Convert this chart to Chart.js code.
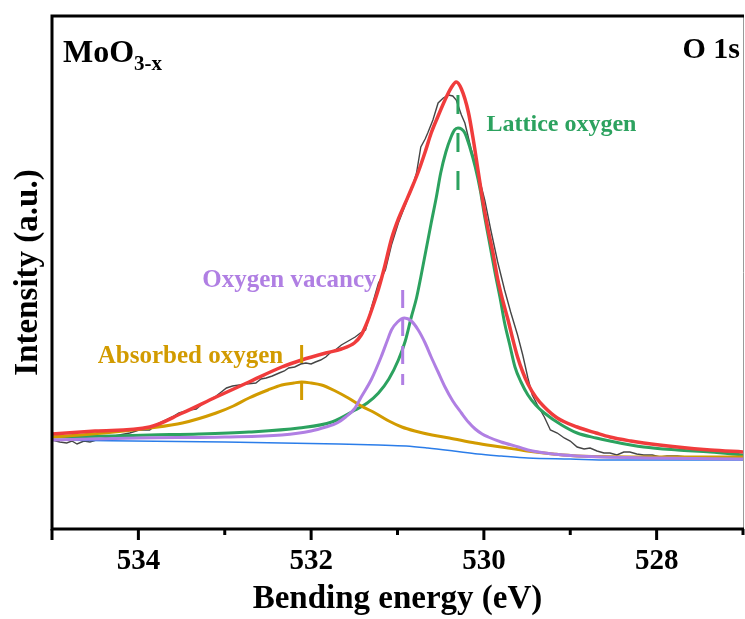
<!DOCTYPE html>
<html>
<head>
<meta charset="utf-8">
<script src="https://cdn.jsdelivr.net/npm/chart.js@4.4.0/dist/chart.umd.min.js"></script>
<style>
  html, body { margin: 0; padding: 0; background: #fff; }
  #wrap { width: 745px; height: 619px; }
</style>
</head>
<body>
<div id="wrap"><canvas id="xps" width="745" height="619"></canvas></div>
<script>
// O 1s spectrum of MoO3-x (intensity in a.u.)

// measured spectrum
const rawEnergy = [535.00, 534.91, 534.83, 534.77, 534.71, 534.63, 534.56, 534.45, 534.33, 534.22, 534.10, 533.99, 533.87, 533.76, 533.68, 533.61, 533.53, 533.41, 533.33, 533.26, 533.18, 533.10, 533.04, 532.98, 532.91, 532.83, 532.75, 532.64, 532.58, 532.52, 532.45, 532.37, 532.31, 532.26, 532.19, 532.12, 532.06, 532.00, 531.95, 531.89, 531.83, 531.77, 531.72, 531.65, 531.57, 531.49, 531.43, 531.37, 531.30, 531.22, 531.14, 531.07, 530.99, 530.91, 530.84, 530.78, 530.73, 530.68, 530.65, 530.59, 530.53, 530.47, 530.41, 530.36, 530.32, 530.26, 530.22, 530.15, 530.07, 529.99, 529.92, 529.84, 529.76, 529.69, 529.61, 529.55, 529.49, 529.44, 529.38, 529.30, 529.23, 529.15, 529.07, 529.00, 528.92, 528.84, 528.77, 528.69, 528.61, 528.54, 528.46, 528.38, 528.31, 528.23, 528.15, 528.05, 527.96, 527.88, 527.76, 527.65, 527.53];
const rawCounts = [89, 87, 86, 88, 85, 88, 87, 90, 92, 94, 96, 99, 99, 106, 109, 112, 116, 119, 120, 125, 129, 133, 137, 141, 143, 144, 145, 146, 150, 151, 153, 156, 158, 161, 162, 165, 166, 165, 167, 169, 172, 177, 179, 184, 188, 192, 196, 199, 222, 246, 259, 284, 306, 324, 339, 356, 382, 390, 396, 409, 426, 431, 434, 433, 429, 414, 406, 381, 356, 329, 299, 267, 239, 217, 194, 174, 151, 134, 124, 112, 99, 96, 91, 88, 82, 80, 81, 78, 76, 76, 74, 77, 77, 75, 74, 74, 72, 73, 73, 72, 72];

// fitted envelope
const envEnergy = [535.00, 534.50, 533.87, 533.49, 533.10, 532.72, 532.34, 532.11, 531.83, 531.65, 531.50, 531.42, 531.35, 531.28, 531.22, 531.15, 531.07, 530.99, 530.91, 530.84, 530.76, 530.68, 530.61, 530.53, 530.45, 530.38, 530.32, 530.26, 530.18, 530.12, 530.07, 530.01, 529.95, 529.89, 529.84, 529.78, 529.72, 529.66, 529.61, 529.55, 529.49, 529.40, 529.30, 529.15, 528.92, 528.70, 528.54, 528.30, 528.15, 527.76, 527.38, 527.00];
const envCounts = [95, 98, 102, 116, 132, 147, 162, 169, 176, 180, 186, 194, 207, 224, 240, 262, 290, 310, 326, 340, 357, 377, 396, 413, 429, 441, 447, 440, 417, 388, 360, 327, 299, 274, 250, 228, 209, 188, 172, 157, 145, 132, 122, 111, 102, 96, 92, 88, 86, 82, 79, 77];

// lattice oxygen component
const latEnergy = [535.00, 534.30, 533.87, 533.30, 532.72, 532.14, 531.76, 531.49, 531.35, 531.22, 531.10, 530.99, 530.91, 530.84, 530.78, 530.73, 530.67, 530.61, 530.55, 530.50, 530.44, 530.38, 530.34, 530.30, 530.26, 530.22, 530.16, 530.10, 530.04, 529.99, 529.93, 529.87, 529.81, 529.76, 529.70, 529.64, 529.57, 529.49, 529.40, 529.30, 529.10, 528.92, 528.70, 528.54, 528.15, 527.76, 527.38, 527.00];
const latCounts = [92, 93, 94, 95, 97, 101, 107, 119, 126, 136, 150, 169, 188, 212, 231, 252, 279, 306, 332, 356, 377, 392, 399, 401, 400, 396, 381, 362, 338, 312, 284, 256, 230, 206, 184, 162, 147, 134, 124, 116, 104, 96, 91, 88, 82, 79, 77, 74];

// oxygen vacancy component
const vacEnergy = [535.00, 534.00, 533.00, 532.34, 532.00, 531.83, 531.70, 531.60, 531.50, 531.42, 531.30, 531.19, 531.12, 531.07, 531.00, 530.92, 530.84, 530.76, 530.68, 530.61, 530.53, 530.45, 530.36, 530.26, 530.18, 530.10, 530.02, 529.95, 529.80, 529.60, 529.49, 529.20, 528.92, 528.00, 527.00];
const vacCounts = [89, 91, 92, 94, 98, 102, 106, 112, 120, 132, 150, 172, 188, 199, 207, 211, 208, 199, 186, 172, 157, 142, 128, 116, 107, 100, 95, 92, 87, 82, 79, 75, 73, 71, 70];

// absorbed oxygen component
const absEnergy = [535.00, 534.40, 533.87, 533.49, 533.10, 532.90, 532.72, 532.50, 532.34, 532.20, 532.11, 532.00, 531.88, 531.72, 531.57, 531.42, 531.26, 531.10, 530.95, 530.80, 530.60, 530.40, 530.10, 529.80, 529.50, 529.20, 528.92, 528.00, 527.00];
const absCounts = [92, 96, 101, 106, 116, 123, 131, 139, 144, 146, 147, 146, 144, 138, 131, 123, 116, 108, 102, 98, 94, 91, 86, 82, 78, 75, 73, 72, 72];

// background
const bgEnergy = [535.00, 533.00, 531.68, 531.22, 530.90, 530.65, 530.35, 530.07, 529.80, 529.49, 529.00, 528.54, 527.00];
const bgCounts = [89, 87, 85, 84, 83, 81, 78, 75, 73, 71, 70, 69, 69];

// peak centres (eV) and the span of their marker lines (a.u.)
const peakNames = ['Lattice oxygen', 'Oxygen vacancy', 'Absorbed oxygen'];
const peakCentre = [530.30, 530.94, 532.11];
const markTop = [434, 239, 184];
const markBottom = [339, 144, 121];

const xLabelTicks = [534, 532, 530, 528];
const xAllTicks = [535, 534, 533, 532, 531, 530, 529, 528, 527];

const SERIF = '"Liberation Serif", "Times New Roman", serif';
const GREEN = '#2ca25f', PURPLE = '#b07fe3', GOLD = '#d29b00';

const toPts = (es, cs) => es.map((e, i) => ({ x: e, y: cs[i] }));

// frame, ticks, peak markers and labels
const decorPlugin = {
    id: 'decor',
    afterDraw(chart) {
        const { ctx, chartArea: a, scales: { x, y } } = chart;
        ctx.save();

        // thin right border
        ctx.strokeStyle = '#9a9a9a';
        ctx.lineWidth = 1;
        ctx.beginPath();
        ctx.moveTo(a.right + 0.5, a.top);
        ctx.lineTo(a.right + 0.5, a.bottom);
        ctx.stroke();

        // thick left, top, bottom
        ctx.strokeStyle = '#000';
        ctx.lineWidth = 3;
        ctx.beginPath();
        ctx.moveTo(a.right + 1, a.top);
        ctx.lineTo(a.left, a.top);
        ctx.lineTo(a.left, a.bottom);
        ctx.lineTo(a.right + 1, a.bottom);
        ctx.stroke();

        // ticks: long on labelled values, short in between
        xAllTicks.forEach(v => {
            const px = x.getPixelForValue(v);
            const len = xLabelTicks.includes(v) || v === 535 ? 11 : 6;
            ctx.beginPath();
            ctx.moveTo(px, a.bottom);
            ctx.lineTo(px, a.bottom + len);
            ctx.stroke();
        });

        // dashed markers at the peak centres
        const colors = [GREEN, PURPLE, GOLD];
        const dashes = [[19, 19], [18, 10], [18, 19]];
        peakCentre.forEach((e, i) => {
            const px = x.getPixelForValue(e);
            ctx.strokeStyle = colors[i];
            ctx.lineWidth = 3;
            ctx.setLineDash(dashes[i]);
            ctx.beginPath();
            ctx.moveTo(px, y.getPixelForValue(markTop[i]));
            ctx.lineTo(px, y.getPixelForValue(markBottom[i]));
            ctx.stroke();
        });
        ctx.setLineDash([]);

        // peak names
        ctx.textBaseline = 'alphabetic';
        ctx.textAlign = 'left';
        ctx.font = 'bold 24px ' + SERIF;
        ctx.fillStyle = GREEN;
        ctx.fillText(peakNames[0], x.getPixelForValue(529.97), y.getPixelForValue(398));
        ctx.font = 'bold 25px ' + SERIF;
        ctx.fillStyle = PURPLE;
        ctx.fillText(peakNames[1], x.getPixelForValue(533.26), y.getPixelForValue(242));
        ctx.font = 'bold 25px ' + SERIF;
        ctx.fillStyle = GOLD;
        ctx.fillText(peakNames[2], x.getPixelForValue(534.47), y.getPixelForValue(166));

        // sample and core level
        ctx.fillStyle = '#000';
        ctx.font = 'bold 32px ' + SERIF;
        const sx = a.left + 11, sy = a.top + 46;
        ctx.fillText('MoO', sx, sy);
        const w = ctx.measureText('MoO').width;
        ctx.font = 'bold 21px ' + SERIF;
        ctx.fillText('3-x', sx + w, sy + 8);
        ctx.font = 'bold 30px ' + SERIF;
        ctx.textAlign = 'right';
        ctx.fillText('O 1s', a.right - 3, a.top + 42);

        ctx.restore();
    }
};

const line = (label, pts, color, width, order, smooth) => ({
    label,
    data: pts,
    borderColor: color,
    borderWidth: width,
    pointRadius: 0,
    fill: false,
    order,
    tension: 0,
    cubicInterpolationMode: smooth ? 'monotone' : 'default'
});

new Chart(document.getElementById('xps'), {
    type: 'line',
    data: {
        datasets: [
            line('Envelope', toPts(envEnergy, envCounts), '#f03c3c', 3.5, 0, true),
            line('Oxygen vacancy', toPts(vacEnergy, vacCounts), PURPLE, 3, 1, true),
            line('Absorbed oxygen', toPts(absEnergy, absCounts), GOLD, 3, 2, true),
            line('Lattice oxygen', toPts(latEnergy, latCounts), GREEN, 3, 3, true),
            line('Background', toPts(bgEnergy, bgCounts), '#2b7de9', 1.5, 4, true),
            line('Raw', toPts(rawEnergy, rawCounts), '#454545', 1.4, 5, false)
        ]
    },
    options: {
        responsive: false,
        animation: false,
        events: [],
        layout: { padding: { top: 16, right: 2, left: 0, bottom: 0 } },
        plugins: { legend: { display: false }, tooltip: { enabled: false } },
        scales: {
            x: {
                type: 'linear',
                reverse: true,
                min: 527,
                max: 535,
                afterBuildTicks: s => { s.ticks = xLabelTicks.map(v => ({ value: v })); },
                afterFit: s => { s.height = 90; },
                grid: { display: false, drawTicks: false },
                border: { display: false },
                ticks: {
                    color: '#000',
                    padding: 15,
                    maxRotation: 0,
                    font: { family: SERIF, size: 29, weight: 'bold' }
                },
                title: {
                    display: true,
                    text: 'Bending energy (eV)',
                    color: '#000',
                    padding: { top: 0, bottom: 0 },
                    font: { family: SERIF, size: 33, weight: 'bold' }
                }
            },
            y: {
                min: 0,
                max: 513,
                afterFit: s => { s.width = 52; },
                grid: { display: false, drawTicks: false },
                border: { display: false },
                ticks: { display: false },
                title: {
                    display: true,
                    text: 'Intensity (a.u.)',
                    color: '#000',
                    padding: { top: 9, bottom: 0 },
                    font: { family: SERIF, size: 33, weight: 'bold' }
                }
            }
        }
    },
    plugins: [decorPlugin]
});
</script>
</body>
</html>
